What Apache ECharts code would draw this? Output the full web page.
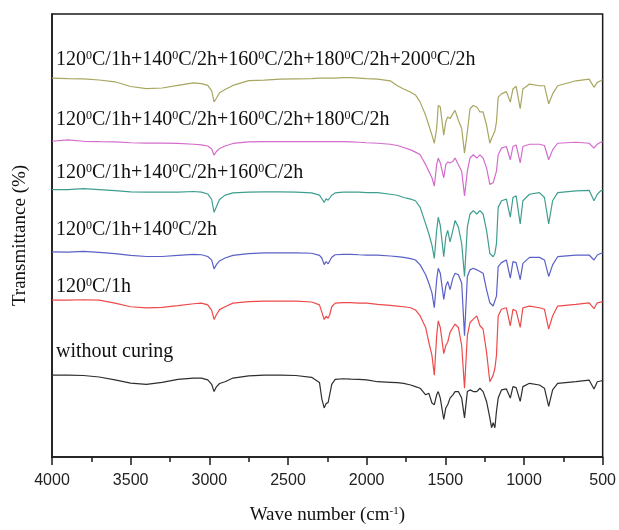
<!DOCTYPE html>
<html>
<head>
<meta charset="utf-8">
<script src="https://cdn.jsdelivr.net/npm/echarts@6/dist/echarts.min.js"></script>
<style>
  html, body { margin: 0; padding: 0; background: #ffffff; }
  #chart { width: 619px; height: 530px; }
</style>
</head>
<body>
<div id="chart"></div>
<script>
// FTIR spectra of the resin after successive curing steps (stacked, arbitrary offsets)
const wavenumbers = [
  4000, 3900, 3800, 3700, 3600, 3500, 3400, 3300, 3200, 3100, 3050, 3010, 2985, 2970, 2955, 2935,
  2900, 2850, 2750, 2650, 2550, 2450, 2350, 2300, 2285, 2270, 2258, 2245, 2235, 2222, 2200, 2150,
  2100, 2050, 2000,
  1930, 1850, 1805, 1765, 1720, 1690, 1660, 1625, 1605, 1585, 1570, 1555, 1545, 1532, 1510, 1497,
  1485, 1470, 1452, 1438, 1417, 1396, 1378, 1360, 1343, 1322, 1300, 1280, 1260, 1238, 1217, 1206,
  1196, 1185, 1175, 1164, 1143, 1112, 1087, 1070, 1050, 1024, 1007, 965, 902, 870, 843, 818,
  786, 670, 586, 555, 534, 513, 500
];

// transmittance traces, offset upward for each curing schedule
const uncured = [
  83, 83, 82.6, 81.1, 78.2, 74.9, 73.7, 75.6, 78.6, 80, 80, 78.2, 73.7, 66.3, 71.1, 74.5,
  76.3, 80, 82.3, 83, 83, 82.6, 80.8, 75.6, 59, 49.7, 54.1, 55.2, 57, 73.7, 78.6, 79.3,
  78.9, 78.6, 78.2,
  76.3, 75.7, 75.3, 74.7, 73, 71.3, 69.7, 63, 64.7, 54.7, 53, 63, 66.3, 59.7, 38, 49.7,
  53, 59.7, 63, 66.3, 66.3, 59.7, 39.7, 66.3, 68, 66.3, 66.3, 69.7, 66.3, 56.3, 39.7, 29.7,
  34.7, 29.7, 46.3, 59.7, 68, 69, 59.7, 71.3, 70.3, 56.3, 71.3, 74.7, 73, 69.7, 51.3, 68,
  74.7, 76.3, 78, 69, 76.3, 77, 77.7
];
const cured120 = [
  159, 159, 159.4, 159, 156, 152.3, 151.2, 151.6, 153.4, 155.3, 156, 154.2, 148.6, 139.4, 144.2, 149.4,
  152.3, 156, 157.5, 157.9, 157.9, 157.9, 157.1, 154.2, 146.8, 139.4, 142.7, 140.5, 144.2, 152.3, 156, 156.4,
  156.4, 156, 156,
  154.7, 153.7, 153, 152.3, 151.3, 149, 143, 131.3, 116.3, 103, 83, 123, 138, 131.3, 104.7, 113,
  116.3, 126.3, 131.3, 134.7, 131.3, 113, 69.7, 123, 136.3, 139.7, 143, 133, 129.7, 106.3, 76.3, 79.7,
  83, 89.7, 103, 143, 149.7, 151.3, 133, 149.7, 148, 131.3, 151.3, 153, 151.3, 149.7, 129.7, 143,
  153, 154.7, 156.3, 150.3, 156.3, 157, 157.7
];
const cured140 = [
  208, 207.6, 208.5, 207.3, 206.1, 204.3, 203.2, 203.2, 204.3, 205.4, 205, 203.2, 199.5, 190.6, 195, 198.7,
  201.7, 204.3, 206.1, 206.9, 206.9, 206.9, 206.5, 204.3, 201.7, 195, 198, 195.8, 198.7, 202.4, 205, 205.4,
  205.4, 205, 204.7,
  204.7, 203.7, 203, 202.3, 201, 199.7, 194.7, 184.7, 176.3, 166.3, 151.3, 179.7, 191.3, 186.3, 159.7, 173,
  178, 169.7, 181.3, 186.3, 184.7, 176.3, 123, 183, 189.7, 191.3, 189.7, 188, 186.3, 169.7, 156.3, 154.7,
  153, 154.7, 163, 193, 197, 199.7, 181.3, 198, 197, 179.7, 196.3, 202.3, 202.3, 199.7, 183, 194.7,
  203, 204.7, 204.7, 199.7, 204.7, 206.3, 207
];
const cured160 = [
  271, 271, 272, 271, 269.9, 268.8, 268.4, 268.4, 268.4, 269.1, 268.4, 266.6, 261, 248, 253.6, 261,
  265.4, 267.7, 268.4, 268.8, 268.8, 268.4, 267.7, 265.4, 261.7, 258, 261.7, 260.3, 262.5, 265.4, 267.7, 268.4,
  268.4, 268.4, 268,
  268, 266.3, 265.3, 263, 261.3, 259.7, 253, 236.3, 226.3, 214.7, 201.3, 229.7, 243, 234.7, 203, 223,
  229.7, 218, 229.7, 239.7, 233, 216.3, 183, 233, 246.3, 249.7, 246.3, 249.7, 246.3, 229.7, 206.3, 204.7,
  203, 206.3, 216.3, 253, 259.7, 261.3, 243, 263, 264.7, 236.3, 259.7, 266.3, 268, 263, 236.3, 259.7,
  268, 269.7, 270.3, 259.7, 266.3, 269.7, 270.3
];
const cured180 = [
  320, 321.5, 320, 319.6, 319.3, 318.5, 318.1, 318.1, 317.8, 317, 316.3, 315.2, 312.2, 306, 309.6, 312.6,
  315.2, 317.8, 319.3, 319.6, 319.6, 319.6, 319.6, 319.6, 319.6, 319.6, 319.6, 319.6, 319.6, 319.6, 319.6, 319.6,
  319.3, 319, 318.5,
  318, 317, 315.7, 313.7, 311.3, 309, 306.3, 296.3, 289.7, 283, 274.7, 296.3, 303, 298, 283, 296.3,
  299, 298, 299.7, 303, 296.3, 289.7, 264.7, 289.7, 303, 306.3, 303, 306.3, 303, 293, 276.3, 277,
  278, 279.7, 289.7, 306.3, 313, 314.7, 301.3, 314.7, 316.3, 298, 314.7, 317, 317, 315.7, 301.3, 311.3,
  318, 319, 318, 313, 317, 319, 319.7
];
const cured200 = [
  384, 383.6, 383.3, 382.1, 380.3, 375.5, 373.3, 374, 376.6, 379.2, 378.4, 376.6, 371, 360, 363.6, 369.2,
  372.5, 376.6, 381.4, 382, 383, 383.3, 383.6, 384, 384, 384, 384, 384, 384, 384, 384, 384.5,
  384.5, 384, 383.5,
  383, 381.3, 376.3, 373, 369.7, 367, 359.7, 346.3, 336.3, 326.3, 318, 333, 356.3, 354.7, 326.3, 339.7,
  344.7, 343, 348, 351.3, 341.3, 333, 308, 329.7, 353, 356.3, 354.7, 349.7, 349.7, 336.3, 318, 323,
  326.3, 330.3, 339.7, 364.7, 368, 370.3, 359.7, 373, 375.7, 353, 373, 378, 376.3, 376.3, 358, 368,
  376.3, 381.3, 383, 374.7, 379.7, 381.3, 382.3
];

// curing schedules, drawn as text above each trace ({s|0} is the raised zero)
const scheduleLabels = [
  'without curing',
  '120{s|0}C/1h',
  '120{s|0}C/1h+140{s|0}C/2h',
  '120{s|0}C/1h+140{s|0}C/2h+160{s|0}C/2h',
  '120{s|0}C/1h+140{s|0}C/2h+160{s|0}C/2h+180{s|0}C/2h',
  '120{s|0}C/1h+140{s|0}C/2h+160{s|0}C/2h+180{s|0}C/2h+200{s|0}C/2h'
];
const traces = [uncured, cured120, cured140, cured160, cured180, cured200];
const traceColors = ['#2e2e2e', '#ee4a4a', '#5a60c6', '#3f9e90', '#d46ccd', '#a8a660'];
const labelTops = [342, 277, 220, 163, 110, 50];

const xTicks = [4000, 3500, 3000, 2500, 2000, 1500, 1000, 500];

const chart = echarts.init(document.getElementById('chart'), null, { renderer: 'canvas' });

const serif = '"Liberation Serif", "Times New Roman", serif';

chart.setOption({
  animation: false,
  backgroundColor: '#ffffff',
  grid: {
    left: 52, right: 13, top: 14, bottom: 67,
    show: true, borderColor: '#1a1a1a', borderWidth: 1.5, backgroundColor: 'transparent'
  },
  xAxis: {
    type: 'value',
    inverse: true,
    min: xTicks[xTicks.length - 1],
    max: xTicks[0],
    interval: 500,
    name: 'Wave number (cm{s|-1})',
    nameLocation: 'middle',
    nameGap: 49,
    nameTextStyle: {
      fontFamily: serif, fontSize: 19, color: '#111',
      rich: { s: { fontFamily: serif, fontSize: 11, verticalAlign: 'top', color: '#111' } }
    },
    axisLine: { show: true, lineStyle: { color: '#1a1a1a', width: 1.5 } },
    axisTick: { show: true, inside: false, length: 8, lineStyle: { color: '#1a1a1a', width: 1.5 } },
    minorTick: { show: true, splitNumber: 2, length: 5, lineStyle: { color: '#1a1a1a', width: 1.5 } },
    axisLabel: {
      fontFamily: '"Liberation Sans", Arial, sans-serif', fontSize: 16, color: '#222', margin: 16,
      formatter: (v) => String(v)
    },
    splitLine: { show: false }
  },
  yAxis: {
    type: 'value',
    min: 0,
    max: 449,
    name: 'Transmittance (%)',
    nameLocation: 'middle',
    nameGap: 22,
    nameTextStyle: { fontFamily: serif, fontSize: 19, color: '#111' },
    axisLine: { show: true, lineStyle: { color: '#1a1a1a', width: 1.5 } },
    axisTick: { show: false },
    axisLabel: { show: false },
    splitLine: { show: false }
  },
  series: traces.map((vals, k) => ({
    type: 'line',
    name: scheduleLabels[k],
    data: wavenumbers.map((w, i) => [w, vals[i]]),
    showSymbol: false,
    smooth: false,
    lineStyle: { color: traceColors[k], width: 1.2 },
    z: 2
  })),
  graphic: scheduleLabels.map((txt, k) => ({
    type: 'text',
    left: 56,
    top: labelTops[k],
    silent: true,
    style: {
      text: txt,
      fill: '#111',
      font: '20px ' + serif,
      rich: {
        s: { fontFamily: serif, fontSize: 12, verticalAlign: 'top', fill: '#111', color: '#111' }
      }
    }
  }))
});
</script>
</body>
</html>
